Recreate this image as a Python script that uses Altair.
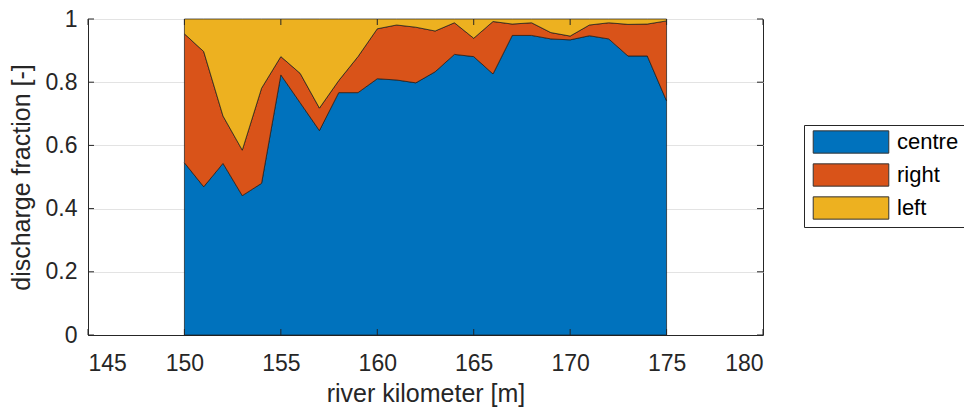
import altair as alt
import pandas as pd

# River kilometre stations and the share of discharge in each channel
km = list(range(150, 176))
centre = [0.545, 0.469, 0.543, 0.441, 0.480, 0.823, 0.735, 0.647, 0.767, 0.767,
          0.811, 0.807, 0.798, 0.833, 0.888, 0.881, 0.826, 0.948, 0.948, 0.937,
          0.934, 0.947, 0.937, 0.883, 0.883, 0.741]
right = [0.408, 0.428, 0.150, 0.144, 0.301, 0.058, 0.093, 0.071, 0.038, 0.114,
         0.158, 0.174, 0.176, 0.129, 0.100, 0.058, 0.166, 0.036, 0.040, 0.020,
         0.012, 0.034, 0.051, 0.100, 0.101, 0.253]
left = [0.047, 0.103, 0.307, 0.415, 0.219, 0.119, 0.172, 0.282, 0.195, 0.119,
        0.031, 0.019, 0.026, 0.038, 0.012, 0.061, 0.008, 0.016, 0.012, 0.043,
        0.054, 0.019, 0.012, 0.017, 0.016, 0.006]

channels = ["centre", "right", "left"]
colours = ["#0072BD", "#D95319", "#EDB120"]

x_ticks = [145, 150, 155, 160, 165, 170, 175, 180]
y_ticks = [0, 0.2, 0.4, 0.6, 0.8, 1]

rows = []
for i, k in enumerate(km):
    for order, (name, series) in enumerate(zip(channels, [centre, right, left])):
        rows.append({"km": k, "channel": name, "fraction": series[i], "order": order})
df = pd.DataFrame(rows)

FONT = "Liberation Sans"
INK = "#262626"

x_scale = alt.Scale(domain=[145, 180], nice=False, zero=False)
y_scale = alt.Scale(domain=[0, 1], nice=False)

areas = alt.Chart(df).mark_area(stroke="#1a1a1a", strokeWidth=0.7, opacity=1).encode(
    x=alt.X("km:Q", scale=x_scale,
            axis=alt.Axis(values=x_ticks, title="river kilometer [m]", grid=False,
                          labelPadding=17, titlePadding=6)),
    y=alt.Y("fraction:Q", stack="zero", scale=y_scale,
            axis=alt.Axis(values=y_ticks, format=".1~f", title="discharge fraction [-]",
                          grid=True, labelPadding=11, titlePadding=11)),
    color=alt.Color("channel:N",
                    scale=alt.Scale(domain=channels, range=colours),
                    legend=alt.Legend(title=None, orient="none", legendX=716, legendY=106)),
    order=alt.Order("order:Q"),
)

# Inward tick marks on all four sides of the box
ydf = pd.DataFrame({"v": y_ticks})
xdf = pd.DataFrame({"v": x_ticks})
tick_style = dict(color=INK, strokeWidth=1)
y_left = alt.Chart(ydf).mark_rule(**tick_style).encode(
    y=alt.Y("v:Q", scale=y_scale), x=alt.value(0), x2=alt.value(6))
y_right = alt.Chart(ydf).mark_rule(**tick_style).encode(
    y=alt.Y("v:Q", scale=y_scale), x=alt.value(675), x2=alt.value(669))
x_bottom = alt.Chart(xdf).mark_rule(**tick_style).encode(
    x=alt.X("v:Q", scale=x_scale), y=alt.value(316), y2=alt.value(310))
x_top = alt.Chart(xdf).mark_rule(**tick_style).encode(
    x=alt.X("v:Q", scale=x_scale), y=alt.value(0), y2=alt.value(6))

chart = alt.layer(areas, y_left, y_right, x_bottom, x_top).properties(
    width=675,
    height=316,
    autosize=alt.AutoSizeParams(type="none"),
    padding={"left": 88, "top": 19, "right": 201, "bottom": 75},
    background="white",
).configure_view(
    stroke=INK, strokeWidth=1
).configure_axis(
    labelFont=FONT, titleFont=FONT, labelFontSize=23, titleFontSize=25,
    labelColor=INK, titleColor=INK, titleFontWeight="normal",
    domainColor=INK, tickSize=0, gridColor="#e3e3e3", gridWidth=1,
).configure_legend(
    labelFont=FONT, labelFontSize=22, labelColor="black",
    strokeColor=INK, fillColor="white", padding=5,
    symbolType="M-3.39,-1H3.39V1H-3.39Z", symbolSize=497,
    symbolOffset=30, labelOffset=34,
    symbolStrokeColor="#333333", symbolStrokeWidth=1, symbolOpacity=1,
    rowPadding=5,
)

chart.save("out.html", embed_options={"renderer": "svg", "actions": False})
